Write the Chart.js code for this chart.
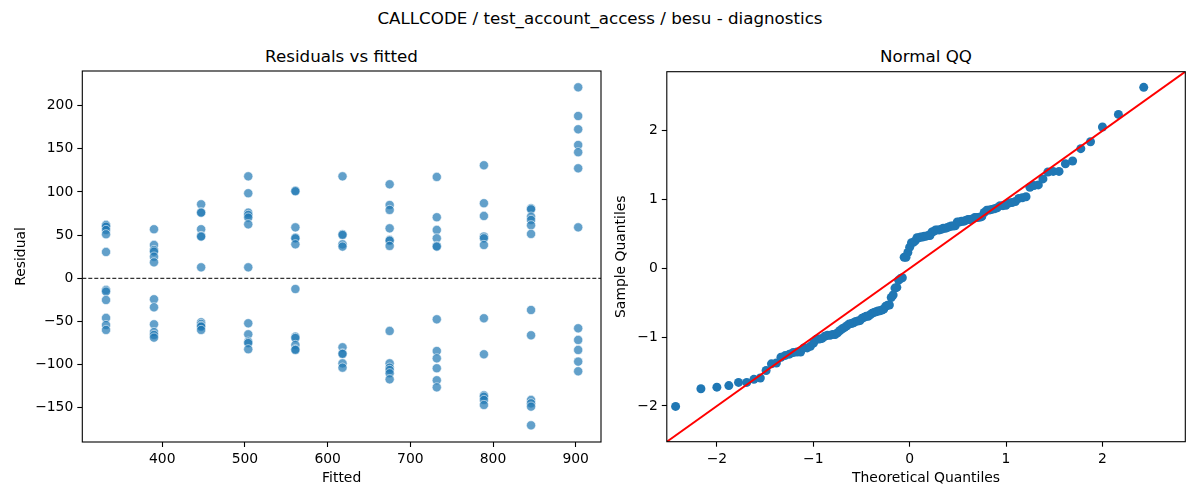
<!DOCTYPE html>
<html>
<head>
<meta charset="utf-8">
<script src="https://cdn.jsdelivr.net/npm/chart.js@4"></script>
<style>
  body { margin: 0; width: 1200px; height: 500px; background: #fff; position: relative; overflow: hidden; }
  .t { position: absolute; text-align: center; font-family: 'DejaVu Sans', sans-serif; font-size: 16.7px; line-height: 20px; color: #000; white-space: nowrap; }
  canvas { position: absolute; top: 0; }
</style>
</head>
<body>
<div class="t" style="left:0;width:1200px;top:8px">CALLCODE / test_account_access / besu - diagnostics</div>
<div class="t" style="left:82px;width:519px;top:46px">Residuals vs fitted</div>
<div class="t" style="left:667px;width:518px;top:46px">Normal QQ</div>
<canvas id="resid" width="620" height="500" style="left:0"></canvas>
<canvas id="qq" width="600" height="500" style="left:600px"></canvas>
<script>
// fitted values (one column of residuals each)
var fitted = [332, 390, 447, 504, 561, 618, 675, 732, 789, 846, 903];

// residuals
var r1 = [61.8, 61.5, 59.8, 56, 51, 30.5, -13.5, -15.4, -25.1, -45.9, -54.1, -59.8];
var r2 = [56.8, 38.6, 32.8, 30.9, 25.1, 18.5, -24.3, -33.6, -53.3, -62.2, -65.6, -68.7];
var r3 = [85.7, 76.4, 76, 56.8, 49, 48.3, 12.7, -51, -52.9, -55, -56, -59.8];
var r4 = [118.1, 98.5, 76, 73.4, 70.3, 62.5, 12.7, -52.1, -64.9, -73.4, -75, -82.2];
var r5 = [101.5, 100.8, 59, 47.1, 46.3, 39.4, -12.4, -67.6, -69.1, -77.2, -82.2, -83];
var r6 = [118.1, 51, 50.2, 39.4, 36.7, -79.9, -86.9, -87.6, -98.5, -103.5];
var r7 = [108.9, 84.9, 79.2, 57.9, 44.4, 43.6, 37.5, -61, -98.5, -103.5, -106.2, -110, -117];
var r8 = [117.4, 70.7, 56, 46.3, 37.5, 36.7, -47.5, -84.2, -92.7, -104.2, -118.1, -126.3];
var r9 = [130.9, 86.9, 72.2, 48.3, 46.3, 38.6, -46.3, -88, -135.5, -137.1, -140.9, -146.7];
var r10 = [81.1, 79.9, 71.4, 67.6, 61.4, 51.4, -36.7, -66, -140.9, -144.8, -148.6, -170.3];
var r11 = [221.2, 188, 172.6, 154.4, 146, 127.4, 59, -57.9, -71.4, -83, -96.5, -107.7];
var residuals = [r1, r2, r3, r4, r5, r6, r7, r8, r9, r10, r11];

// tick labels
var fittedTicks = [400, 500, 600, 700, 800, 900];
var residTicks = [-150, -100, -50, 0, 50, 100, 150, 200];
var qqTicks = [-2, -1, 0, 1, 2];

// axis ranges
var fitRange = [303.3, 930.6];
var resRange = [-189.6, 240.1];
var qqRange = [-2.52, 2.86];

Chart.defaults.font.family = "'DejaVu Sans', sans-serif";
Chart.defaults.font.size = 13.9;
Chart.defaults.color = '#000';

var blue = '#1f77b4';

// matplotlib style box round the plot area
var frame = {
  id: 'frame',
  afterDraw: function (chart) {
    var a = chart.chartArea, ctx = chart.ctx;
    ctx.save();
    ctx.strokeStyle = '#000';
    ctx.lineWidth = 1.1;
    ctx.strokeRect(a.left, a.top, a.right - a.left, a.bottom - a.top);
    ctx.restore();
  }
};

function minus(v) { return String(v).replace('-', '\u2212'); }

function axis(range, ticks, title, size, horizontal) {
  return {
    type: 'linear',
    min: range[0],
    max: range[1],
    border: { display: false },
    grid: { display: true, drawOnChartArea: false, drawTicks: true, tickLength: 5, tickColor: '#000', tickWidth: 1.1 },
    ticks: { padding: 4, callback: minus, maxRotation: 0 },
    title: { display: true, text: title, padding: { top: 13, bottom: 13 } },
    afterBuildTicks: function (s) { s.ticks = ticks.map(function (v) { return { value: v }; }); },
    afterFit: function (s) { if (horizontal) s.height = size; else s.width = size; }
  };
}

// left: residuals vs fitted
var residPoints = [];
for (var i = 0; i < fitted.length; i++) {
  for (var j = 0; j < residuals[i].length; j++) {
    residPoints.push({ x: fitted[i], y: residuals[i][j] });
  }
}

new Chart(document.getElementById('resid'), {
  type: 'scatter',
  data: {
    datasets: [{
      data: [{ x: fitRange[0], y: 0 }, { x: fitRange[1], y: 0 }],
      showLine: true,
      pointRadius: 0,
      borderColor: '#000',
      borderWidth: 1,
      borderDash: [4, 2]
    }, {
      data: residPoints,
      pointRadius: 4.6,
      backgroundColor: 'rgba(31,119,180,0.7)',
      borderColor: 'rgba(255,255,255,0.7)',
      borderWidth: 0.8
    }]
  },
  options: {
    responsive: false,
    animation: false,
    layout: { padding: { top: 71, right: 19, bottom: 0, left: 0 } },
    plugins: { legend: { display: false }, tooltip: { enabled: false } },
    scales: {
      x: axis(fitRange, fittedTicks, 'Fitted', 58, true),
      y: axis(resRange, residTicks, 'Residual', 82.3, false)
    }
  },
  plugins: [frame]
});

// right: normal QQ of the same residuals (standardised, against normal quantiles)
function normInv(p) {
  var a = [-3.969683028665376e+01, 2.209460984245205e+02, -2.759285104469687e+02, 1.383577518672690e+02, -3.066479806614716e+01, 2.506628277459239e+00];
  var b = [-5.447609879822406e+01, 1.615858368580409e+02, -1.556989798598866e+02, 6.680131188771972e+01, -1.328068155288572e+01];
  var c = [-7.784894002430293e-03, -3.223964580411365e-01, -2.400758277161838e+00, -2.549671010115819e+00, 4.374664141464968e+00, 2.938163982698783e+00];
  var d = [7.784695709041462e-03, 3.224671290700398e-01, 2.445134137142996e+00, 3.754408661907416e+00];
  var q, r;
  if (p < 0.02425) {
    q = Math.sqrt(-2 * Math.log(p));
    return (((((c[0] * q + c[1]) * q + c[2]) * q + c[3]) * q + c[4]) * q + c[5]) / ((((d[0] * q + d[1]) * q + d[2]) * q + d[3]) * q + 1);
  }
  if (p > 1 - 0.02425) return -normInv(1 - p);
  q = p - 0.5; r = q * q;
  return (((((a[0] * r + a[1]) * r + a[2]) * r + a[3]) * r + a[4]) * r + a[5]) * q / (((((b[0] * r + b[1]) * r + b[2]) * r + b[3]) * r + b[4]) * r + 1);
}

var allRes = [].concat.apply([], residuals).sort(function (u, v) { return u - v; });
var n = allRes.length;
var mean = allRes.reduce(function (s, v) { return s + v; }, 0) / n;
var sd = Math.sqrt(allRes.reduce(function (s, v) { return s + (v - mean) * (v - mean); }, 0) / n);
var qqPoints = allRes.map(function (v, k) {
  return { x: normInv((k + 1) / (n + 1)), y: (v - mean) / sd };
});

new Chart(document.getElementById('qq'), {
  type: 'scatter',
  data: {
    datasets: [{
      data: [{ x: qqRange[0], y: qqRange[0] }, { x: qqRange[1], y: qqRange[1] }],
      showLine: true,
      pointRadius: 0,
      borderColor: '#ff0000',
      borderWidth: 2
    }, {
      data: qqPoints,
      pointRadius: 4.5,
      backgroundColor: blue,
      borderWidth: 0
    }]
  },
  options: {
    responsive: false,
    animation: false,
    layout: { padding: { top: 71.7, right: 14.7, bottom: 0, left: 0 } },
    plugins: { legend: { display: false }, tooltip: { enabled: false } },
    scales: {
      x: axis(qqRange, qqTicks, 'Theoretical Quantiles', 58.3, true),
      y: axis(qqRange, qqTicks, 'Sample Quantiles', 66.8, false)
    }
  },
  plugins: [frame]
});
</script>
</body>
</html>
